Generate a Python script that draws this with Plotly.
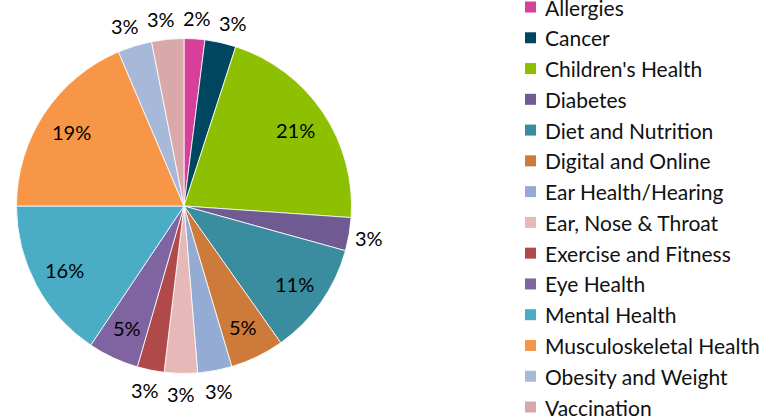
import math
import plotly.graph_objects as go

categories = ["Allergies", "Cancer", "Children's Health", "Diabetes", "Diet and Nutrition",
              "Digital and Online", "Ear Health/Hearing", "Ear, Nose & Throat",
              "Exercise and Fitness", "Eye Health", "Mental Health",
              "Musculoskeletal Health", "Obesity and Weight", "Vaccination"]
values = [2.0, 3.0, 21.1, 3.2, 10.9, 5.2, 3.3, 3.2, 2.6, 4.9, 15.6, 18.6, 3.3, 3.1]
colors = ["#D6409A", "#004661", "#8CC000", "#6F5A91", "#3A8C9F", "#CD7A3A", "#94ABD3",
          "#E6B8B7", "#B04A4A", "#8064A2", "#4BACC6", "#F79646", "#A8B8D8", "#D9A9A9"]

W, H = 771, 418
CX, CY, R = 184.0, 206.0, 167.5          # pie centre and radius in pixels
FONT = "Lato, Open Sans, sans-serif"

fig = go.Figure(go.Pie(
    labels=categories,
    values=values,
    sort=False,
    direction="clockwise",
    rotation=0,
    marker=dict(colors=colors, line=dict(color="white", width=0.8)),
    textinfo="none",
    domain=dict(x=[(CX - R) / W, (CX + R) / W],
                y=[(H - CY - R) / H, (H - CY + R) / H]),
    hoverinfo="label+percent",
    showlegend=False,
))

# percentage labels, placed on each slice's bisector
total = sum(values)
labels = []
cum = 0.0
for v in values:
    mid = (cum + v / 2) / total * 2 * math.pi
    cum += v
    inside = v / total >= 0.045
    rad = 135 if inside else 188
    labels.append(dict(text=f"{round(v / total * 100):.0f}%", inside=inside,
                       px=CX + rad * math.sin(mid), py=CY - rad * math.cos(mid)))

# simple spreading of neighbouring outside labels so they do not touch
outs = [l for l in labels if not l["inside"]]
MIN_DX = 36.0
for _ in range(50):
    moved = False
    for i in range(len(outs)):
        for j in range(i + 1, len(outs)):
            a, b = outs[i], outs[j]
            if abs(a["py"] - b["py"]) >= 20:
                continue
            if a["px"] > b["px"]:
                a, b = b, a
            gap = b["px"] - a["px"]
            if gap < MIN_DX:
                push = (MIN_DX - gap) / 2 + 0.01
                a["px"] -= push
                b["px"] += push
                moved = True
    if not moved:
        break

annotations = [dict(x=l["px"] / W, y=1 - l["py"] / H, xref="paper", yref="paper",
                    text=l["text"], showarrow=False, xanchor="center", yanchor="middle",
                    font=dict(family=FONT, size=20, color="black")) for l in labels]

# legend (drawn manually so that it may run past the top edge as in the reference)
shapes = []
LEG_X_SQ, LEG_X_TXT, LEG_Y0, LEG_DY, SQ = 530.5, 543.0, 7.0, 30.77, 11.0
for i, (name, col) in enumerate(zip(categories, colors)):
    yc = LEG_Y0 + i * LEG_DY
    shapes.append(dict(type="rect", xref="paper", yref="paper",
                       x0=(LEG_X_SQ - SQ / 2) / W, x1=(LEG_X_SQ + SQ / 2) / W,
                       y0=1 - (yc + SQ / 2) / H, y1=1 - (yc - SQ / 2) / H,
                       fillcolor=col, line=dict(width=0)))
    annotations.append(dict(x=LEG_X_TXT / W, y=1 - yc / H, xref="paper", yref="paper",
                            text=name, showarrow=False, xanchor="left", yanchor="middle",
                            font=dict(family=FONT, size=21, color="#111111")))

fig.update_layout(
    width=W, height=H,
    margin=dict(l=0, r=0, t=0, b=0),
    paper_bgcolor="white",
    plot_bgcolor="white",
    font=dict(family=FONT, size=20, color="black"),
    annotations=annotations,
    shapes=shapes,
    showlegend=False,
)

fig.write_html("out.html",
               config={"displayModeBar": False},
               post_script="document.body.style.margin='0px';document.body.style.overflow='hidden';")
